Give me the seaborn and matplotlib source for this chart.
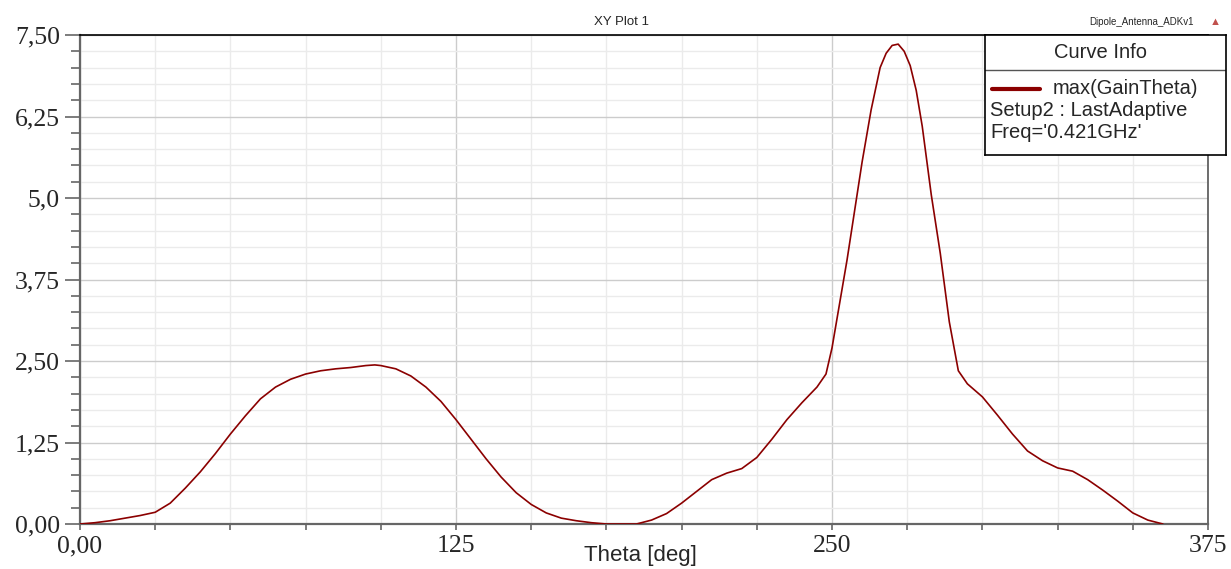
import numpy as np
import pandas as pd
import matplotlib
matplotlib.use("Agg")
import matplotlib.pyplot as plt
import seaborn as sns
from matplotlib.ticker import MultipleLocator, FixedLocator, FixedFormatter

theta = [0, 5, 10, 15, 20, 25, 30, 35, 40, 45, 50, 55, 60, 65, 70, 75, 80, 85, 90, 95,
         98, 100, 105, 110, 115, 120, 125, 130, 135, 140, 145, 150, 155, 160, 165, 170,
         175, 180, 185, 190, 195, 200, 205, 210, 215, 220, 225, 230, 235, 240, 245, 248,
         250, 255, 260, 263, 266, 268, 270, 272, 274, 276, 278, 280, 283, 286, 289, 292,
         295, 300, 305, 310, 315, 320, 325, 330, 335, 340, 345, 350, 355, 360]
gain = [0.0, 0.02, 0.05, 0.09, 0.13, 0.18, 0.32, 0.55, 0.80, 1.08, 1.38, 1.66, 1.92, 2.10,
        2.22, 2.30, 2.35, 2.38, 2.40, 2.43, 2.44, 2.43, 2.38, 2.27, 2.10, 1.88, 1.60, 1.30,
        1.00, 0.72, 0.48, 0.30, 0.17, 0.09, 0.05, 0.02, 0.0, 0.0, 0.0, 0.06, 0.16, 0.32,
        0.50, 0.68, 0.78, 0.85, 1.02, 1.30, 1.60, 1.86, 2.10, 2.30, 2.70, 4.05, 5.55, 6.35,
        7.00, 7.22, 7.34, 7.36, 7.25, 7.03, 6.65, 6.10, 5.05, 4.15, 3.10, 2.35, 2.15, 1.95,
        1.67, 1.38, 1.12, 0.97, 0.86, 0.81, 0.68, 0.52, 0.35, 0.17, 0.06, 0.0]

xticks = [0, 125, 250, 375]
xticklabels = ["0,00", "125", "250", "375"]
yticks = [0, 1.25, 2.5, 3.75, 5.0, 6.25, 7.5]
yticklabels = ["0,00", "1,25", "2,50", "3,75", "5,0", "6,25", "7,50"]

df = pd.DataFrame({"Theta": theta, "Gain": gain})

sns.set_style("white")
plt.rcParams["font.family"] = ["Liberation Sans", "DejaVu Sans"]

fig = plt.figure(figsize=(12.31, 5.69), dpi=100)
W, H = 1231, 569
ax = fig.add_axes([80 / W, (H - 524) / H, (1208 - 80) / W, (524 - 35) / H])

sns.lineplot(data=df, x="Theta", y="Gain", ax=ax, color="#8b0000", linewidth=1.2, zorder=3)

ax.set_xlim(0, 375)
ax.set_ylim(0, 7.5)
ax.xaxis.set_major_locator(FixedLocator(xticks))
ax.xaxis.set_major_formatter(FixedFormatter(xticklabels))
ax.xaxis.set_minor_locator(MultipleLocator(25))
ax.yaxis.set_major_locator(FixedLocator(yticks))
ax.yaxis.set_major_formatter(FixedFormatter(yticklabels))
ax.yaxis.set_minor_locator(MultipleLocator(0.25))

ax.grid(which="major", color="#cccccc", linewidth=1.0, zorder=0)
ax.grid(which="minor", color="#ebebeb", linewidth=1.0, zorder=0)
ax.set_axisbelow(True)

ax.tick_params(axis="y", which="major", direction="out", length=11, width=1.2,
               color="#666666", pad=3.5, labelsize=18.5, left=True)
ax.tick_params(axis="y", which="minor", direction="out", length=6.5, width=1.2,
               color="#666666", left=True)
ax.tick_params(axis="x", which="both", direction="out", length=4.5, width=1.2,
               color="#666666", pad=3.5, labelsize=18.5, bottom=True)
for lab in ax.get_xticklabels() + ax.get_yticklabels():
    lab.set_fontfamily(["Liberation Serif", "DejaVu Serif"])

for side in ["left", "bottom"]:
    ax.spines[side].set_color("#666666")
    ax.spines[side].set_linewidth(1.6)
ax.spines["right"].set_color("#555555")
ax.spines["right"].set_linewidth(1.2)
ax.spines["top"].set_color("black")
ax.spines["top"].set_linewidth(1.2)

ax.set_xlabel("Theta [deg]", fontsize=16, va="center")
ax.xaxis.set_label_coords((640 - 80) / 1128, -(555 - 524) / 489)
ax.set_ylabel("")

fig.text(622 / W, 1 - 22 / H, "XY Plot 1", ha="center", va="center", fontsize=9.5)
fig.text(1142 / W, 1 - 22 / H, "Dipole_Antenna_ADKv1", ha="center", va="center", fontsize=7)
fig.text(1215 / W, 1 - 22 / H, "▲", ha="center", va="center", fontsize=8, color="#c0504d")

# Curve Info box
lax = fig.add_axes([985 / W, (H - 155) / H, (1226 - 985) / W, (155 - 35) / H])
lax.set_xlim(0, 241)
lax.set_ylim(120, 0)
lax.set_xticks([])
lax.set_yticks([])
lax.set_facecolor("white")
for s in lax.spines.values():
    s.set_color("black")
    s.set_linewidth(1.2)
lax.axhline(35, color="#555555", linewidth=1.0)
lax.text(116, 18, "Curve Info", ha="center", va="center", fontsize=14.5)
lax.plot([7, 55], [54, 54], color="#8b0000", linewidth=3)
lax.text(68, 54, "max(GainTheta)", ha="left", va="center", fontsize=14.5)
lax.text(5, 76, "Setup2 : LastAdaptive", ha="left", va="center", fontsize=14.5)
lax.text(5, 98, "Freq='0.421GHz'", ha="left", va="center", fontsize=14.5)

fig.savefig("out.png", dpi=100)
